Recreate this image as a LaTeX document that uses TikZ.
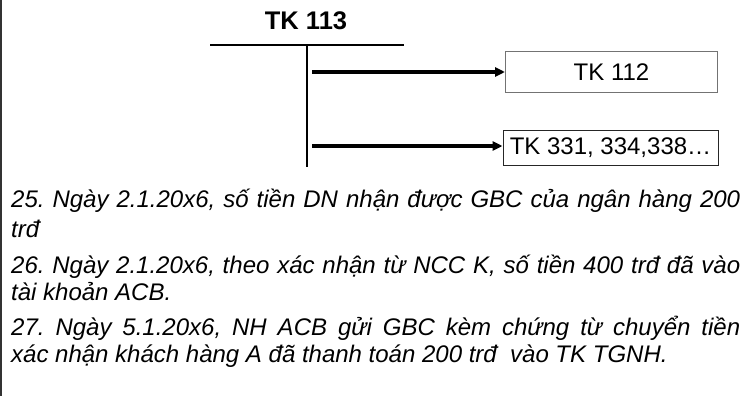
\documentclass[tikz,border=0pt]{standalone}
\usepackage{fontspec}
\setmainfont{Liberation Sans}
\usetikzlibrary{arrows.meta}
\begin{document}
\frenchspacing
\begin{tikzpicture}[x=1pt,y=-1pt,
  acct/.style={draw=#1,line width=1pt,inner sep=0pt,font=\fontsize{24}{28}\selectfont},
  arr/.style={line width=3.4pt,-{Triangle[length=10pt,width=9pt]}},
  body/.style={anchor=base west,inner sep=0pt,font=\fontsize{24}{28}\selectfont\itshape}]
\useasboundingbox (0,0) rectangle (747,396);
\draw[line width=1.2pt,black!80] (1,0) -- (1,396);
\node[font=\fontsize{25.5}{30}\selectfont\bfseries,inner sep=0pt] (t113) at (306,21) {TK 113};
\coordinate (tl) at (210,45);
\coordinate (tr) at (404,45);
\coordinate (vt) at (307,45);
\coordinate (vb) at (307,167);
\coordinate (a1) at (312,72);
\coordinate (a2) at (312,146);
\draw[line width=2.8pt] (tl) -- (tr);
\draw[line width=2.2pt] (vt) -- (vb);
\node[acct=black!55,minimum width=212pt,minimum height=40pt] (b112) at (611.5,72) {TK 112};
\node[acct=black!85,minimum width=215pt,minimum height=35pt] (b331) at (610.5,147.5) {TK 331, 334,338\ldots};
\draw[arr] (a1) -- (a1 -| b112.west);
\draw[arr] (a2) -- (a2 -| b331.west);
\node[body] (l1) at (11,207) {\makebox[729pt][s]{25. Ngày 2.1.20x6, số tiền DN nhận được GBC của ngân hàng 200}};
\node[body] (l2) at (11,237) {trđ};
\node[body] (l3) at (11,273) {\makebox[729pt][s]{26. Ngày 2.1.20x6, theo xác nhận từ NCC K, số tiền 400 trđ đã vào}};
\node[body] (l4) at (11,300) {tài khoản ACB.};
\node[body] (l5) at (11,335) {\makebox[729pt][s]{27. Ngày 5.1.20x6, NH ACB gửi GBC kèm chứng từ chuyển tiền}};
\node[body] (l6) at (11,362) {xác nhận khách hàng A đã thanh toán 200 trđ~ vào TK TGNH.};
\end{tikzpicture}
\end{document}
